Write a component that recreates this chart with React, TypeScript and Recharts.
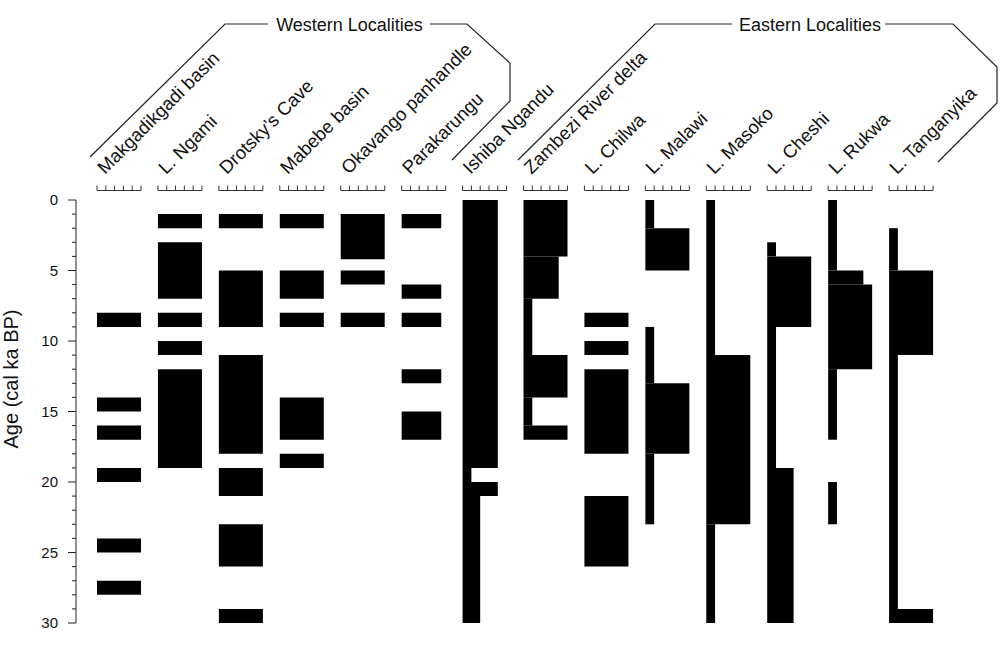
import React from "react";
import { ComposedChart, XAxis, YAxis, ReferenceArea } from "recharts";

// localities, left to right
const localities = [
  "Makgadikgadi basin",
  "L. Ngami",
  "Drotsky’s Cave",
  "Mabebe basin",
  "Okavango panhandle",
  "Parakarungu",
  "Ishiba Ngandu",
  "Zambezi River delta",
  "L. Chilwa",
  "L. Malawi",
  "L. Masoko",
  "L. Cheshi",
  "L. Rukwa",
  "L. Tanganyika",
];

// [from ka, to ka, relative wetness 0-5]
const makgadikgadi = [[8, 9, 5], [14, 15, 5], [16, 17, 5], [19, 20, 5], [24, 25, 5], [27, 28, 5]];
const ngami = [[1, 2, 5], [3, 7, 5], [8, 9, 5], [10, 11, 5], [12, 19, 5]];
const drotsky = [[1, 2, 5], [5, 9, 5], [11, 18, 5], [19, 21, 5], [23, 26, 5], [29, 30, 5]];
const mabebe = [[1, 2, 5], [5, 7, 5], [8, 9, 5], [14, 17, 5], [18, 19, 5]];
const okavango = [[1, 4.2, 5], [5, 6, 5], [8, 9, 5]];
const parakarungu = [[1, 2, 4.5], [6, 7, 4.5], [8, 9, 4.5], [12, 13, 4.5], [15, 17, 4.5]];
const ishiba = [[0, 19, 4], [19, 20, 1], [20, 21, 4], [21, 30, 2]];
const zambezi = [[0, 4, 5], [4, 7, 4], [7, 11, 1], [11, 14, 5], [14, 16, 1], [16, 17, 5]];
const chilwa = [[8, 9, 5], [10, 11, 5], [12, 18, 5], [21, 26, 5]];
const malawi = [[0, 2, 1], [2, 5, 5], [9, 13, 1], [13, 18, 5], [18, 23, 1]];
const masoko = [[0, 11, 1], [11, 23, 5], [23, 30, 1]];
const cheshi = [[3, 4, 1], [4, 9, 5], [9, 19, 1], [19, 30, 3]];
const rukwa = [[0, 5, 1], [5, 6, 4], [6, 12, 5], [12, 17, 1], [20, 23, 1]];
const tanganyika = [[2, 5, 1], [5, 11, 5], [11, 29, 1], [29, 30, 5]];

const segments = [
  makgadikgadi, ngami, drotsky, mabebe, okavango, parakarungu, ishiba,
  zambezi, chilwa, malawi, masoko, cheshi, rukwa, tanganyika,
];

const ageTicks = Array.from({ length: 31 }, (_, i) => i);
const columnTicks = localities.map((_, i) => i);
const scaleSteps = [0, 1, 2, 3, 4, 5];

const FONT = "'Liberation Sans', Arial, sans-serif";
const COL_PX = 60.92; // one locality column
const SCALE_PX = 44; // width of the 0-5 scale
const SCALE_FRAC = SCALE_PX / COL_PX;

const rows = localities.map((name, i) => ({ name, col: i }));

const rects = segments.flatMap((segs, i) =>
  segs.map((s, k) => ({ key: `${i}-${k}`, x1: i, x2: i + (SCALE_FRAC * s[2]) / 5, y1: s[0], y2: s[1] }))
);

const HeaderTick = (props: any) => {
  const { x, y, payload } = props;
  const base = y - 9.5;
  const lx = x + 8;
  const ly = y - 25;
  return (
    <g>
      <line x1={x} x2={x + SCALE_PX} y1={base} y2={base} stroke="#333" strokeWidth={1} />
      {scaleSteps.map((s) => (
        <line key={s} x1={x + (SCALE_PX * s) / 5} x2={x + (SCALE_PX * s) / 5} y1={base} y2={base - 5} stroke="#333" strokeWidth={1} />
      ))}
      <text x={lx} y={ly} transform={`rotate(-45, ${lx}, ${ly})`} fontSize={18.5} fontFamily={FONT} fill="#111">
        {localities[payload.value]}
      </text>
    </g>
  );
};

const AgeTick = (props: any) => {
  const { x, y, payload } = props;
  const major = payload.value % 5 === 0;
  return (
    <g>
      <line x1={x - (major ? 8 : 4)} x2={x} y1={y} y2={y} stroke="#222" strokeWidth={1} />
      {major && (
        <text x={x - 18} y={y} dy="0.35em" textAnchor="end" fontSize={15} fontFamily={FONT} fill="#111">
          {payload.value}
        </text>
      )}
    </g>
  );
};

const AgeLabel = () => (
  <text x={18} y={379} transform="rotate(-90, 18, 379)" textAnchor="middle" fontSize={20} fontFamily={FONT} fill="#111">
    Age (cal ka BP)
  </text>
);

export default function App() {
  return (
    <div style={{ position: "absolute", left: 0, top: 0, width: 1000, height: 646, background: "#fff" }}>
      <ComposedChart width={1000} height={646} data={rows} margin={{ top: 0, right: 50, bottom: 23, left: 0 }}>
        <XAxis
          dataKey="col"
          type="number"
          domain={[-21 / COL_PX, 14]}
          allowDataOverflow
          ticks={columnTicks}
          interval={0}
          orientation="top"
          height={200}
          axisLine={false}
          tickLine={false}
          tickSize={0}
          tickMargin={0}
          tick={<HeaderTick />}
        />
        <YAxis
          type="number"
          domain={[0, 30]}
          allowDataOverflow
          reversed
          ticks={ageTicks}
          interval={0}
          width={76}
          axisLine={{ stroke: "#222" }}
          tickLine={false}
          tickSize={0}
          tickMargin={0}
          tick={<AgeTick />}
          label={{ content: <AgeLabel /> }}
        />
        {rects.map((r) => (
          <ReferenceArea
            key={r.key}
            x1={r.x1}
            x2={r.x2}
            y1={r.y1}
            y2={r.y2}
            fill="#000"
            fillOpacity={1}
            stroke="none"
            ifOverflow="visible"
          />
        ))}
      </ComposedChart>
      <svg width={1000} height={646} style={{ position: "absolute", left: 0, top: 0, pointerEvents: "none" }}>
        <g fill="none" stroke="#222" strokeWidth={1.2}>
          <polyline points="90,157 225,24 268,24" />
          <polyline points="430,24 467,24 510,63 510,101 452,160" />
          <polyline points="518,160 655,24 732,24" />
          <polyline points="885,24 953,24 997,67 997,103 938,162" />
        </g>
        <text x={349.5} y={30.5} textAnchor="middle" fontSize={18} fontFamily={FONT} fill="#111">
          Western Localities
        </text>
        <text x={810} y={30.5} textAnchor="middle" fontSize={18} fontFamily={FONT} fill="#111">
          Eastern Localities
        </text>
      </svg>
    </div>
  );
}
